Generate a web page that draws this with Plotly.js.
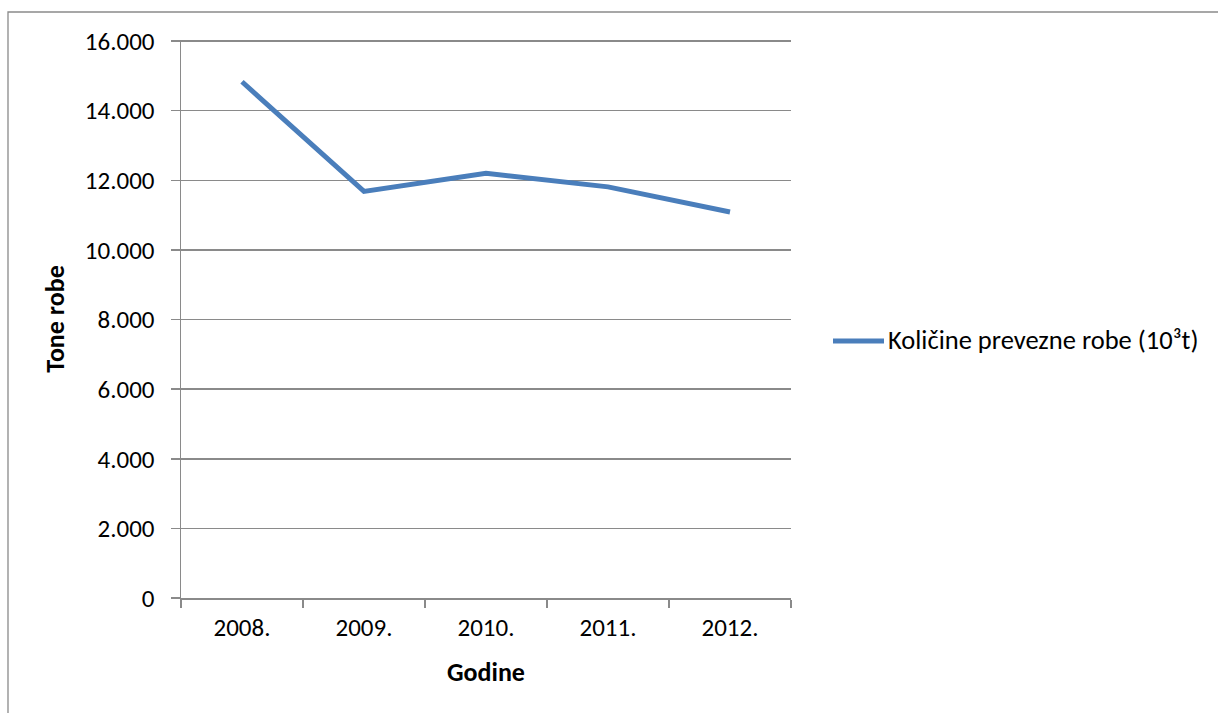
<!DOCTYPE html>
<html>
<head>
<meta charset="utf-8">
<script src="https://cdn.plot.ly/plotly-3.0.1.min.js"></script>
<style>
html,body{margin:0;padding:0;background:#fff;}
#chart{width:1218px;height:713px;}
</style>
</head>
<body>
<div id="chart"></div>
<script>
const years = ['2008.', '2009.', '2010.', '2011.', '2012.'];
const tonnes = [14830, 11680, 12200, 11810, 11090];
const seriesName = 'Količine prevezne robe (10³t)';
const yTitle = 'Tone robe';
const xTitle = 'Godine';

const FONT = 'Carlito, Lato, "Liberation Sans", sans-serif';
const GRID = '#8a8a8a';
const BLUE = '#4a7ebb';

const L = 181, R = 791, T = 40, B = 598, W = 1218, H = 713;
const pw = R - L, ph = B - T;
const px = x => (x - L) / pw;
const py = y => (B - y) / ph;

const trace = {
  x: years,
  y: tonnes,
  type: 'scatter',
  mode: 'lines',
  name: seriesName,
  line: {color: BLUE, width: 5},
  showlegend: false,
  hoverinfo: 'x+y'
};

const layout = {
  width: W, height: H,
  margin: {l: L, r: W - R, t: T, b: H - B, pad: 0},
  paper_bgcolor: '#ffffff',
  plot_bgcolor: '#ffffff',
  separators: ',.',
  font: {family: FONT, size: 25, color: '#000'},
  xaxis: {
    type: 'category',
    range: [-0.5, 4.5],
    tickson: 'boundaries',
    ticks: 'outside', ticklen: 8, tickwidth: 1.5, tickcolor: GRID,
    ticklabelstandoff: 6,
    showline: true, linecolor: GRID, linewidth: 1.5,
    showgrid: false, zeroline: false,
    tickfont: {family: FONT, size: 25, color: '#000'},
    title: {text: xTitle, font: {family: FONT, size: 26, color: '#000', weight: 'bold'}, standoff: 21},
    fixedrange: true
  },
  yaxis: {
    range: [0, 16029],
    tickvals: [0, 2000, 4000, 6000, 8000, 10000, 12000, 14000, 16000],
    tickformat: ',d',
    ticks: 'outside', ticklen: 9, tickwidth: 1.5, tickcolor: GRID,
    ticklabelstandoff: 11,
    showline: true, linecolor: GRID, linewidth: 1.5,
    showgrid: true, gridcolor: GRID, gridwidth: 1.5,
    zeroline: false,
    tickfont: {family: FONT, size: 25, color: '#000'},
    title: {text: yTitle, font: {family: FONT, size: 26, color: '#000', weight: 'bold'}, standoff: 12},
    fixedrange: true
  },
  shapes: [
    {type: 'rect', xref: 'paper', yref: 'paper',
     x0: px(8), x1: px(1240), y0: py(740), y1: py(12),
     line: {color: GRID, width: 1.3}, fillcolor: 'rgba(0,0,0,0)', layer: 'below'},
    {type: 'line', xref: 'paper', yref: 'paper',
     x0: px(833), x1: px(884), y0: py(341), y1: py(341),
     line: {color: BLUE, width: 5}}
  ],
  annotations: [
    {xref: 'paper', yref: 'paper', x: px(886), y: py(340),
     xanchor: 'left', yanchor: 'middle', showarrow: false,
     text: seriesName, font: {family: FONT, size: 26.5, color: '#000'}}
  ]
};

Plotly.newPlot('chart', [trace], layout, {displayModeBar: false, staticPlot: true});
</script>
</body>
</html>
